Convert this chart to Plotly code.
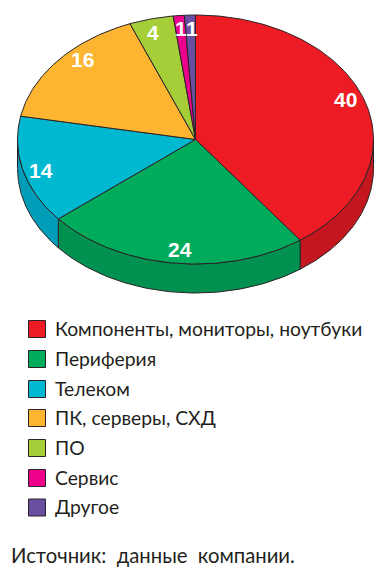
import numpy as np
import plotly.graph_objects as go

categories = ["Компоненты, мониторы, ноутбуки", "Периферия", "Телеком", "ПК, серверы, СХД", "ПО", "Сервис", "Другое"]
values = [40, 24, 14, 16, 4, 1, 1]
colors = ["#ED1C24", "#00AB5B", "#00B9D0", "#FDB431", "#A6CE39", "#EC008C", "#6A4FA0"]
side_colors = ["#C4161F", "#009150", "#009DB8", "#D99A2A", "#8DB030", "#C80077", "#5A4388"]
source_text = "Источник:\u00a0 данные\u00a0 компании."

# layout (pixel space)
W, H = 387, 578
CX, CY, RX, RY, DEPTH = 195.5, 139.5, 178, 124.5, 29
LABEL_POS = [(345, 99), (179.5, 249), (41, 170), (82, 59), (153, 32), (181, 28), (191.5, 28)]
LEGEND_X, LEGEND_Y = 37, [329, 359, 389, 418, 448, 478, 507.5]
INK = "#2a2226"

def ell(t):
    return CX + RX * np.sin(t), CY - RY * np.cos(t)

fig = go.Figure()
edges = np.cumsum([0] + values) / sum(values) * 2 * np.pi

def poly(x, y, fill):
    fig.add_trace(go.Scatter(x=x, y=y, mode="lines", fill="toself", fillcolor=fill,
                             line=dict(color=INK, width=1), hoverinfo="skip", showlegend=False))

# side wall: only the front half of the rim (theta between pi/2 and 3pi/2)
for i in range(len(values)):
    a = max(edges[i], np.pi / 2)
    b = min(edges[i + 1], 3 * np.pi / 2)
    if b <= a:
        continue
    t = np.linspace(a, b, 80)
    x, y = ell(t)
    poly(np.r_[x, x[::-1], x[0]], np.r_[y, y[::-1] + DEPTH, y[0]], side_colors[i])

# top face
for i in range(len(values)):
    t = np.linspace(edges[i], edges[i + 1], max(int(values[i] * 4), 6))
    x, y = ell(t)
    poly(np.r_[CX, x, CX], np.r_[CY, y, CY], colors[i])

# legend swatches
fig.add_trace(go.Scatter(x=[LEGEND_X] * len(categories), y=LEGEND_Y, mode="markers",
                         marker=dict(symbol="square", size=17, color=colors, line=dict(color=INK, width=1)),
                         text=categories, hoverinfo="text", showlegend=False))

annotations = []
for v, (x, y) in zip(values, LABEL_POS):
    annotations.append(dict(x=x, y=y, text=f"<b>{v}</b>", showarrow=False, xref="x", yref="y",
                            font=dict(family="Liberation Sans", size=21, color="white")))
for c, y in zip(categories, LEGEND_Y):
    annotations.append(dict(x=53, y=y - 1, text=c, showarrow=False, xanchor="left", xref="x", yref="y",
                            font=dict(family="Lato", size=19.3, color="#231f20")))
annotations.append(dict(x=9, y=555, text=source_text, showarrow=False, xanchor="left", xref="x", yref="y",
                        font=dict(family="Lato", size=20.3, color="#231f20")))

fig.update_layout(width=W, height=H, margin=dict(l=0, r=0, t=0, b=0),
                  paper_bgcolor="white", plot_bgcolor="white",
                  xaxis=dict(range=[0, W], visible=False, fixedrange=True),
                  yaxis=dict(range=[H, 0], visible=False, fixedrange=True),
                  annotations=annotations)
fig.write_html("out.html", config=dict(displayModeBar=False),
               post_script="document.body.style.margin='0';document.documentElement.style.overflow='hidden';")
